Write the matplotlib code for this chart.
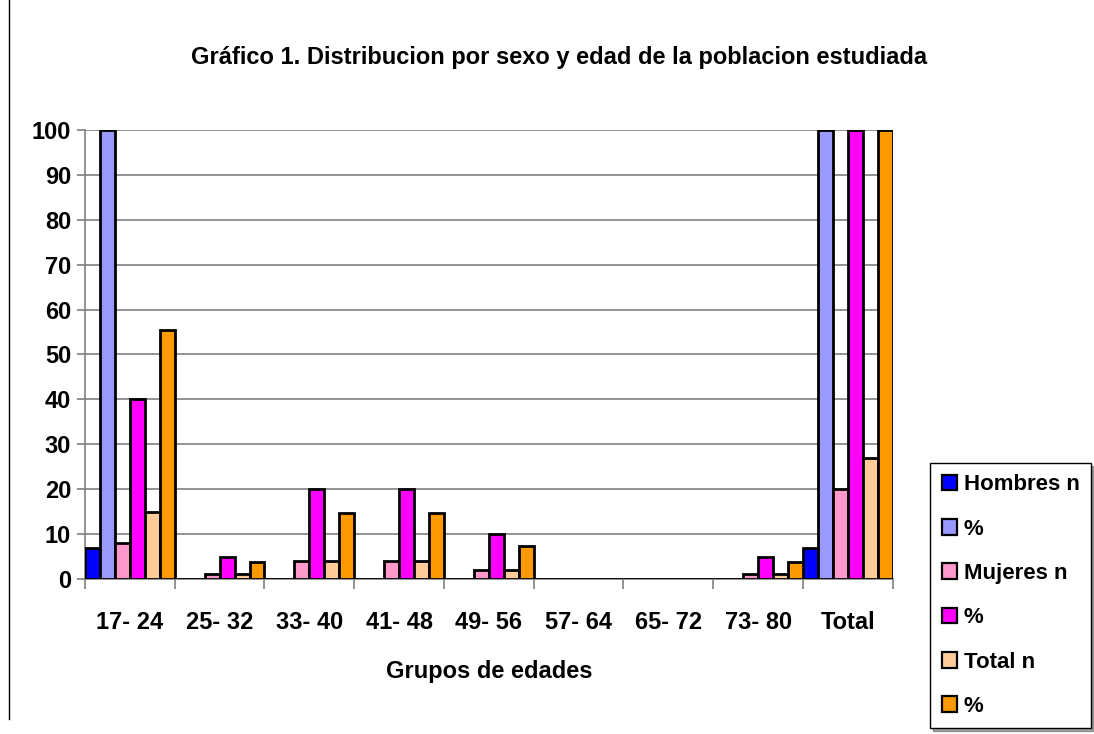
import matplotlib.pyplot as plt
import numpy as np
from matplotlib.lines import Line2D
from matplotlib.patches import Patch

categories = ["17- 24", "25- 32", "33- 40", "41- 48", "49- 56", "57- 64", "65- 72", "73- 80", "Total"]
series_names = ["Hombres n", "%", "Mujeres n", "%", "Total n", "%"]
hombres_n = [7, 0, 0, 0, 0, 0, 0, 0, 7]
hombres_pct = [100, 0, 0, 0, 0, 0, 0, 0, 100]
mujeres_n = [8, 1, 4, 4, 2, 0, 0, 1, 20]
mujeres_pct = [40, 5, 20, 20, 10, 0, 0, 5, 100]
total_n = [15, 1, 4, 4, 2, 0, 0, 1, 27]
total_pct = [55.5, 3.7, 14.8, 14.8, 7.4, 0, 0, 3.7, 100]
colors = ["#0000FF", "#9999FF", "#FF99CC", "#FF00FF", "#FFCC99", "#FF9900"]

plt.rcParams["font.family"] = ["Liberation Sans", "DejaVu Sans"]
plt.rcParams["font.weight"] = "bold"

fig = plt.figure(figsize=(10.94, 7.34), dpi=100)
ax = fig.add_axes([0.0777, 0.2112, 0.7383, 0.6117])

series = [hombres_n, hombres_pct, mujeres_n, mujeres_pct, total_n, total_pct]
x = np.arange(len(categories))
width = 1 / 6
for i, (values, color) in enumerate(zip(series, colors)):
    ax.bar(x - 0.5 + width * (i + 0.5), values, width, color=color,
           edgecolor="black", linewidth=2.0, zorder=3)

ax.set_xlim(-0.5, len(categories) - 0.5)
ax.set_ylim(0, 100)
ax.set_yticks(range(0, 101, 10))
ax.yaxis.grid(True, color="#808080", linewidth=1.2, zorder=0)
ax.set_xticks(x)
ax.set_xticklabels(categories, fontsize=17, fontweight="bold")
ax.set_xticks(np.arange(len(categories) + 1) - 0.5, minor=True)
ax.tick_params(axis="x", which="major", length=0, pad=23)
ax.tick_params(axis="x", which="minor", length=7, width=1.2, color="#808080")
ax.tick_params(axis="y", length=6, width=1.2, color="#808080", labelsize=17, pad=4)
for label in ax.get_yticklabels():
    label.set_fontweight("bold")
for side in ["top", "right"]:
    ax.spines[side].set_visible(False)
for side in ["left", "bottom"]:
    ax.spines[side].set_color("#808080")
    ax.spines[side].set_linewidth(1.2)

ax.set_xlabel("Grupos de edades", fontsize=17, fontweight="bold", labelpad=19)
fig.text(0.511, 0.922, "Gráfico 1. Distribucion por sexo y edad de la poblacion estudiada",
         ha="center", va="center", fontsize=17, fontweight="bold")

handles = [Patch(facecolor=c, edgecolor="black", linewidth=1.6) for c in colors]
leg = fig.legend(handles, series_names, loc="lower right", bbox_to_anchor=(0.997, 0.008),
                 fontsize=16, frameon=True, fancybox=False, shadow=True,
                 handlelength=0.7, handleheight=0.7, handletextpad=0.3,
                 labelspacing=1.05, borderpad=0.5, borderaxespad=0)
leg.get_frame().set_edgecolor("black")
leg.get_frame().set_linewidth(1.0)
for t in leg.get_texts():
    t.set_fontweight("bold")

fig.add_artist(Line2D([0.0085, 0.0085], [0.02, 1.0], color="black", linewidth=1.0))

fig.savefig("out.png", dpi=100)
